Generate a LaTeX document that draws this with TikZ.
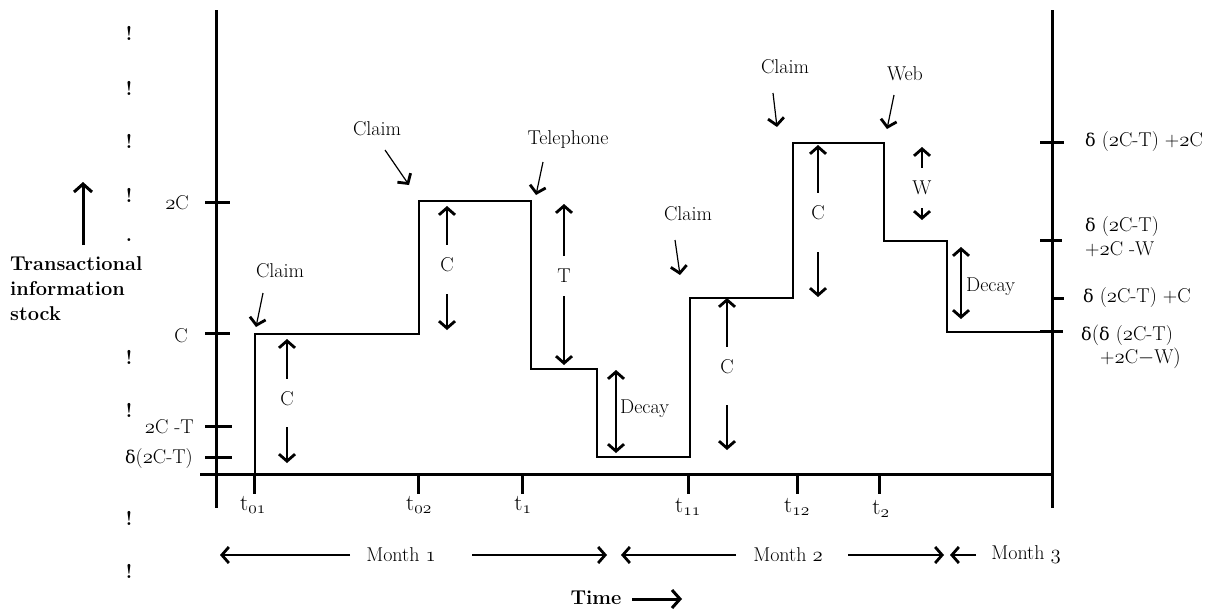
\documentclass[tikz,border=0pt]{standalone}
\usepackage{fontspec}
\newfontfamily\dvs[Scale=0.88]{DejaVu Serif}
\usetikzlibrary{arrows.meta}
\newcommand\osn[1]{{\usefont{OML}{cmm}{m}{it}#1}}
\newcommand\dl{{\dvs δ}}
\tikzset{
  lab/.style={font=\fontsize{20}{24}\selectfont, inner sep=0pt},
  tlab/.style={font=\fontsize{23}{26}\selectfont, inner sep=0pt},
  gaplab/.style={lab, inner ysep=13pt},
  axisline/.style={line width=3pt},
  stepline/.style={line width=1.5pt},
  shaft/.style={line width=1.2pt},
  hd/.style={-{Straight Barb[length=7pt,width=16pt,line width=2.8pt]}},
  hdd/.style={{Straight Barb[length=7pt,width=16pt,line width=2.8pt]}-{Straight Barb[length=7pt,width=16pt,line width=2.8pt]}},
  bighd/.style={line width=3pt,-{Straight Barb[length=8pt,width=18pt,line width=3pt]}},
  bang/.style={lab, font=\fontsize{20}{24}\selectfont\bfseries}
}
\begin{document}
\begin{tikzpicture}[x=1pt,y=-1pt]
\useasboundingbox (0,0) rectangle (1211,616);
% axes
\coordinate (ya) at (216,10); \coordinate (yb) at (216,508);
\coordinate (ra) at (1052,10); \coordinate (rb) at (1052,508);
\coordinate (xa) at (200,474); \coordinate (xb) at (1052,474);
\draw[axisline] (ya) -- (yb);
\draw[axisline] (ra) -- (rb);
\draw[axisline] (xa) -- (xb);
% left ticks
\draw[axisline] (205,202) -- (230,202);
\draw[axisline] (205,333) -- (230,333);
\draw[axisline] (205,426) -- (232,426);
\draw[axisline] (205,457) -- (232,457);
\node[lab,anchor=east] (l2c) at (189,203) {\osn{2}C};
\node[lab,anchor=east] (lc) at (188,336) {C};
\node[lab,anchor=east] (l2ct) at (194,427) {\osn{2}C -T};
\node[lab,anchor=east] (ld) at (193,459) {\dl(\osn{2}C-T)};
% right ticks
\draw[axisline] (1040,142) -- (1064,142);
\draw[axisline] (1040,240) -- (1062,240);
\draw[axisline] (1052,298) -- (1064,298);
\draw[axisline] (1040,331) -- (1063,331);
\node[lab,anchor=west] (r1) at (1085,142) {\dl\ (\osn{2}C-T) +\osn{2}C};
\node[lab,anchor=west] (r2a) at (1085,227) {\dl\ (\osn{2}C-T)};
\node[lab,anchor=west] (r2b) at (1085,249) {+\osn{2}C -W};
\node[lab,anchor=west] (r3) at (1083,298) {\dl\ (\osn{2}C-T) +C};
\node[lab,anchor=west] (r4a) at (1081,335) {\dl$\bigl($\dl\ (\osn{2}C-T)};
\node[lab,anchor=west] (r4b) at (1100,358) {+\osn{2}C$-$W$\bigr)$};
% exclamation marks
\node[bang] (b1) at (129,33) {!};
\node[bang] (b2) at (129,88) {!};
\node[bang] (b3) at (129,141) {!};
\node[bang] (b4) at (129,195) {!};
\node[bang] (b5) at (129,240) {.};
\node[bang] (b6) at (129,357) {!};
\node[bang] (b7) at (129,410) {!};
\node[bang] (b8) at (129,518) {!};
\node[bang] (b9) at (129,571) {!};
% y-axis label
\coordinate (yarr0) at (83,245); \coordinate (yarr1) at (83,182);
\draw[bighd] (yarr0) -- (yarr1);
\node[lab,anchor=north west,align=left,font=\fontsize{20}{25}\selectfont\bfseries] (ylab) at (10,256) {Transactional\\information\\stock};
% x ticks
\foreach \x in {254,418,522,688,797,879}{
  \draw[axisline] (\x,474) -- (\x,494);
}
\node[tlab] (t01) at (253,505) {t\textsubscript{\osn{01}}};
\node[tlab] (t02) at (419,505) {t\textsubscript{\osn{02}}};
\node[tlab] (t1) at (523,505) {t\textsubscript{\osn{1}}};
\node[tlab] (t11) at (688,507) {t\textsubscript{\osn{11}}};
\node[tlab] (t12) at (797,507) {t\textsubscript{\osn{12}}};
\node[tlab] (t2) at (881,509) {t\textsubscript{\osn{2}}};
% step function
\draw[stepline] (255,474) -- (255,334) -- (419,334) -- (419,201) -- (531,201) -- (531,369) -- (597,369) -- (597,457) -- (690,457) -- (690,298) -- (793,298) -- (793,143) -- (884,143) -- (884,241) -- (947,241) -- (947,332) -- (1052,332);
% gapped double arrows
\node[gaplab] (c1) at (287,399) {C};
\coordinate (c1t) at (287,339); \coordinate (c1b) at (287,463);
\draw[shaft,hd] (c1) -- (c1t); \draw[shaft,hd,shorten <=8pt] (c1) -- (c1b);
\node[gaplab] (c2) at (447,265) {C};
\coordinate (c2t) at (447,206); \coordinate (c2b) at (447,330);
\draw[shaft,hd] (c2) -- (c2t); \draw[shaft,hd,shorten <=9pt] (c2) -- (c2b);
\node[gaplab] (tt) at (564,276) {T};
\coordinate (ttt) at (564,204); \coordinate (ttb) at (564,365);
\draw[shaft,hd] (tt) -- (ttt); \draw[shaft,hd] (tt) -- (ttb);
\node[gaplab] (c3) at (727,367) {C};
\coordinate (c3t) at (727,298); \coordinate (c3b) at (727,450);
\draw[shaft,hd] (c3) -- (c3t); \draw[shaft,hd,shorten <=18pt] (c3) -- (c3b);
\node[gaplab] (c4) at (818,213) {C};
\coordinate (c4t) at (818,145); \coordinate (c4b) at (818,297);
\draw[shaft,hd] (c4) -- (c4t); \draw[shaft,hd,shorten <=19pt] (c4) -- (c4b);
\node[gaplab] (w) at (922,188) {W};
\coordinate (wt) at (922,147); \coordinate (wb) at (922,220);
\draw[shaft,hd] (w) -- (wt); \draw[shaft,hd] (w) -- (wb);
% decay arrows
\coordinate (d1t) at (616,370); \coordinate (d1b) at (616,453);
\draw[shaft,hdd] (d1t) -- (d1b);
\node[lab,anchor=west] (dec1) at (620,409) {Decay};
\coordinate (d2t) at (961,247); \coordinate (d2b) at (961,319);
\draw[shaft,hdd] (d2t) -- (d2b);
\node[lab,anchor=west] (dec2) at (966,287) {Decay};
% events
\node[lab] (cl1) at (280,271) {Claim};
\coordinate (cl1s) at (263,293); \coordinate (cl1e) at (256,327);
\draw[shaft,hd] (cl1s) -- (cl1e);
\node[lab] (cl2) at (377,129) {Claim};
\coordinate (cl2s) at (385,150); \coordinate (cl2e) at (409,185);
\draw[shaft,hd] (cl2s) -- (cl2e);
\node[lab] (tel) at (568,140) {Telephone};
\coordinate (tels) at (543,162); \coordinate (tele) at (536,195);
\draw[shaft,hd] (tels) -- (tele);
\node[lab] (cl3) at (688,214) {Claim};
\coordinate (cl3s) at (675,240); \coordinate (cl3e) at (680,275);
\draw[shaft,hd] (cl3s) -- (cl3e);
\node[lab] (cl4) at (785,67) {Claim};
\coordinate (cl4s) at (773,93); \coordinate (cl4e) at (777,127);
\draw[shaft,hd] (cl4s) -- (cl4e);
\node[lab] (web) at (905,74) {Web};
\coordinate (webs) at (894,95); \coordinate (webe) at (887,129);
\draw[shaft,hd] (webs) -- (webe);
% months
\node[lab] (m1) at (401,555) {Month \osn{1}};
\coordinate (m1a) at (350,555); \coordinate (m1l) at (220,555);
\coordinate (m1b) at (472,555); \coordinate (m1r) at (607,555);
\draw[shaft,hd] (m1a) -- (m1l); \draw[shaft,hd] (m1b) -- (m1r);
\node[lab] (m2) at (788,555) {Month \osn{2}};
\coordinate (m2a) at (736,555); \coordinate (m2l) at (621,555);
\coordinate (m2b) at (848,555); \coordinate (m2r) at (944,555);
\draw[shaft,hd] (m2a) -- (m2l); \draw[shaft,hd] (m2b) -- (m2r);
\node[lab] (m3) at (1026,555) {Month \osn{3}};
\coordinate (m3a) at (976,555); \coordinate (m3l) at (950,555);
\draw[shaft,hd] (m3a) -- (m3l);
% time
\node[lab,font=\fontsize{20}{24}\selectfont\bfseries] (time) at (596,598) {Time};
\coordinate (tima) at (632,599); \coordinate (timb) at (682,599);
\draw[bighd] (tima) -- (timb);
\end{tikzpicture}
\end{document}
